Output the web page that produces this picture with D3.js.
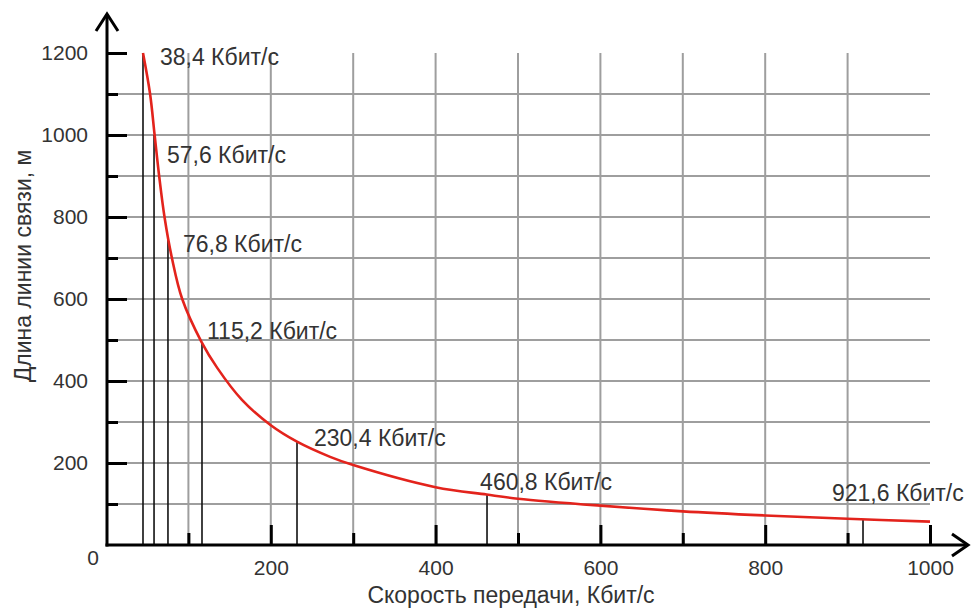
<!DOCTYPE html>
<html>
<head>
<meta charset="utf-8">
<script src="https://cdn.jsdelivr.net/npm/d3@7"></script>
<style>
html,body{margin:0;padding:0;background:#fff;}
svg{display:block;font-family:"Liberation Sans",Arial,sans-serif;}
</style>
</head>
<body>
<svg id="chart" width="971" height="609"></svg>
<script>
// ---- data ----
const curveRate   = [44.9, 53.5, 59, 64.5, 71, 80, 92.5, 116, 135, 165, 200, 231.8, 272, 300, 400, 462, 500, 600, 700, 800, 900, 1000];
const curveLength = [1200, 1100, 1000, 900, 800, 700, 600, 495, 432, 354, 292, 252, 215, 195, 141, 123, 113, 96, 82, 72, 64, 57];

const markerLabels = ["38,4 Кбит/с", "57,6 Кбит/с", "76,8 Кбит/с", "115,2 Кбит/с", "230,4 Кбит/с", "460,8 Кбит/с", "921,6 Кбит/с"];
const markerRate   = [44.9, 58.3, 75.2, 116.5, 231.8, 462.4, 918.7];
const markerTop    = [1200, 1000, 745, 495, 252, 123, 62];
const labelRate    = [65.5, 74, 93.4, 122.6, 252.4, 454, 881];
const labelLength  = [1190, 951, 734, 522, 261, 154, 127];

const xMajorTicks = [200, 400, 600, 800, 1000];
const xMinorTicks = [100, 300, 500, 700, 900];
const yMajorTicks = [200, 400, 600, 800, 1000, 1200];
const yMinorTicks = [100, 300, 500, 700, 900, 1100];
const xGrid = [100, 200, 300, 400, 500, 600, 700, 800, 900];
const yGrid = [100, 200, 300, 400, 500, 600, 700, 800, 900, 1000, 1100];

const xTitle = "Скорость передачи, Кбит/с";
const yTitle = "Длина линии связи, м";

// ---- layout ----
const svg = d3.select("#chart");
const x = d3.scaleLinear().domain([0, 1000]).range([106, 930]);
const y = d3.scaleLinear().domain([0, 1200]).range([545, 53]);
const textColor = "#333";
const fontSize = 23;
const tickFont = 21;

// grid
const grid = svg.append("g").attr("stroke", "#9e9e9e").attr("stroke-width", 2);
grid.selectAll("line.h").data(yGrid).join("line").attr("class", "h")
  .attr("x1", x(0)).attr("x2", x(1000)).attr("y1", d => y(d)).attr("y2", d => y(d));
grid.selectAll("line.v").data(xGrid).join("line").attr("class", "v")
  .attr("x1", d => x(d)).attr("x2", d => x(d)).attr("y1", y(0)).attr("y2", y(1200));

// marker lines
svg.append("g").attr("stroke", "#111").attr("stroke-width", 1.6)
  .selectAll("line").data(markerRate).join("line")
  .attr("x1", d => x(d)).attr("x2", d => x(d))
  .attr("y1", y(0)).attr("y2", (d, i) => y(markerTop[i]));

// axes with inward ticks
function styleAxis(g) {
  g.select(".domain").remove();
  g.selectAll(".tick line").attr("stroke", "#000").attr("stroke-width", 3);
  g.selectAll(".tick text").attr("fill", textColor).attr("font-size", tickFont)
    .attr("font-family", "Liberation Sans, Arial, sans-serif");
}
svg.append("g").attr("transform", `translate(0,${y(0)})`)
  .call(d3.axisBottom(x).tickValues(xMajorTicks).tickSizeInner(-20).tickSizeOuter(0).tickPadding(15).tickFormat(d3.format("d")))
  .call(styleAxis);
svg.append("g").attr("transform", `translate(0,${y(0)})`)
  .call(d3.axisBottom(x).tickValues(xMinorTicks).tickSizeInner(-12).tickSizeOuter(0).tickFormat(""))
  .call(styleAxis);
svg.append("g").attr("transform", `translate(${x(0) + 1},0)`)
  .call(d3.axisLeft(y).tickValues(yMajorTicks).tickSizeInner(-20).tickSizeOuter(0).tickPadding(19).tickFormat(d3.format("d")))
  .call(styleAxis);
svg.append("g").attr("transform", `translate(${x(0) + 1},0)`)
  .call(d3.axisLeft(y).tickValues(yMinorTicks).tickSizeInner(-11).tickSizeOuter(0).tickFormat(""))
  .call(styleAxis);

// zero label
svg.append("text").attr("x", x(0) - 13).attr("y", y(0) + 13).attr("dy", "0.35em")
  .attr("text-anchor", "middle").attr("fill", textColor).attr("font-size", tickFont).text("0");

// axis lines with arrows
const ax = svg.append("g").attr("stroke", "#000").attr("stroke-width", 3).attr("fill", "none")
  .attr("stroke-linecap", "butt").attr("stroke-linejoin", "miter");
ax.append("line").attr("x1", x(0) + 1).attr("x2", x(0) + 1).attr("y1", y(0) + 1.5).attr("y2", 14);
ax.append("path").attr("d", `M${x(0) + 1 - 11},31 L${x(0) + 1},14 L${x(0) + 1 + 11},31`);
ax.append("line").attr("x1", x(0) - 0.5).attr("x2", 968).attr("y1", y(0)).attr("y2", y(0));
ax.append("path").attr("d", `M952,${y(0) - 11} L968,${y(0)} L952,${y(0) + 11}`);

// curve
const pts = curveRate.map((r, i) => [r, curveLength[i]]);
svg.append("path").datum(pts)
  .attr("fill", "none").attr("stroke", "#e3231c").attr("stroke-width", 2.6)
  .attr("d", d3.line().x(d => x(d[0])).y(d => y(d[1])).curve(d3.curveCatmullRom.alpha(0.5)));

// marker labels
svg.append("g").selectAll("text").data(markerLabels).join("text")
  .attr("x", (d, i) => x(labelRate[i])).attr("y", (d, i) => y(labelLength[i]))
  .attr("dy", "0.35em").attr("fill", textColor).attr("font-size", fontSize)
  .text(d => d);

// titles
svg.append("text").attr("x", 511).attr("y", 595).attr("dy", "0.35em")
  .attr("text-anchor", "middle").attr("fill", textColor).attr("font-size", fontSize).text(xTitle);
svg.append("text").attr("transform", "translate(23,266) rotate(-90)").attr("dy", "0.35em")
  .attr("text-anchor", "middle").attr("fill", textColor).attr("font-size", fontSize).text(yTitle);
</script>
</body>
</html>
